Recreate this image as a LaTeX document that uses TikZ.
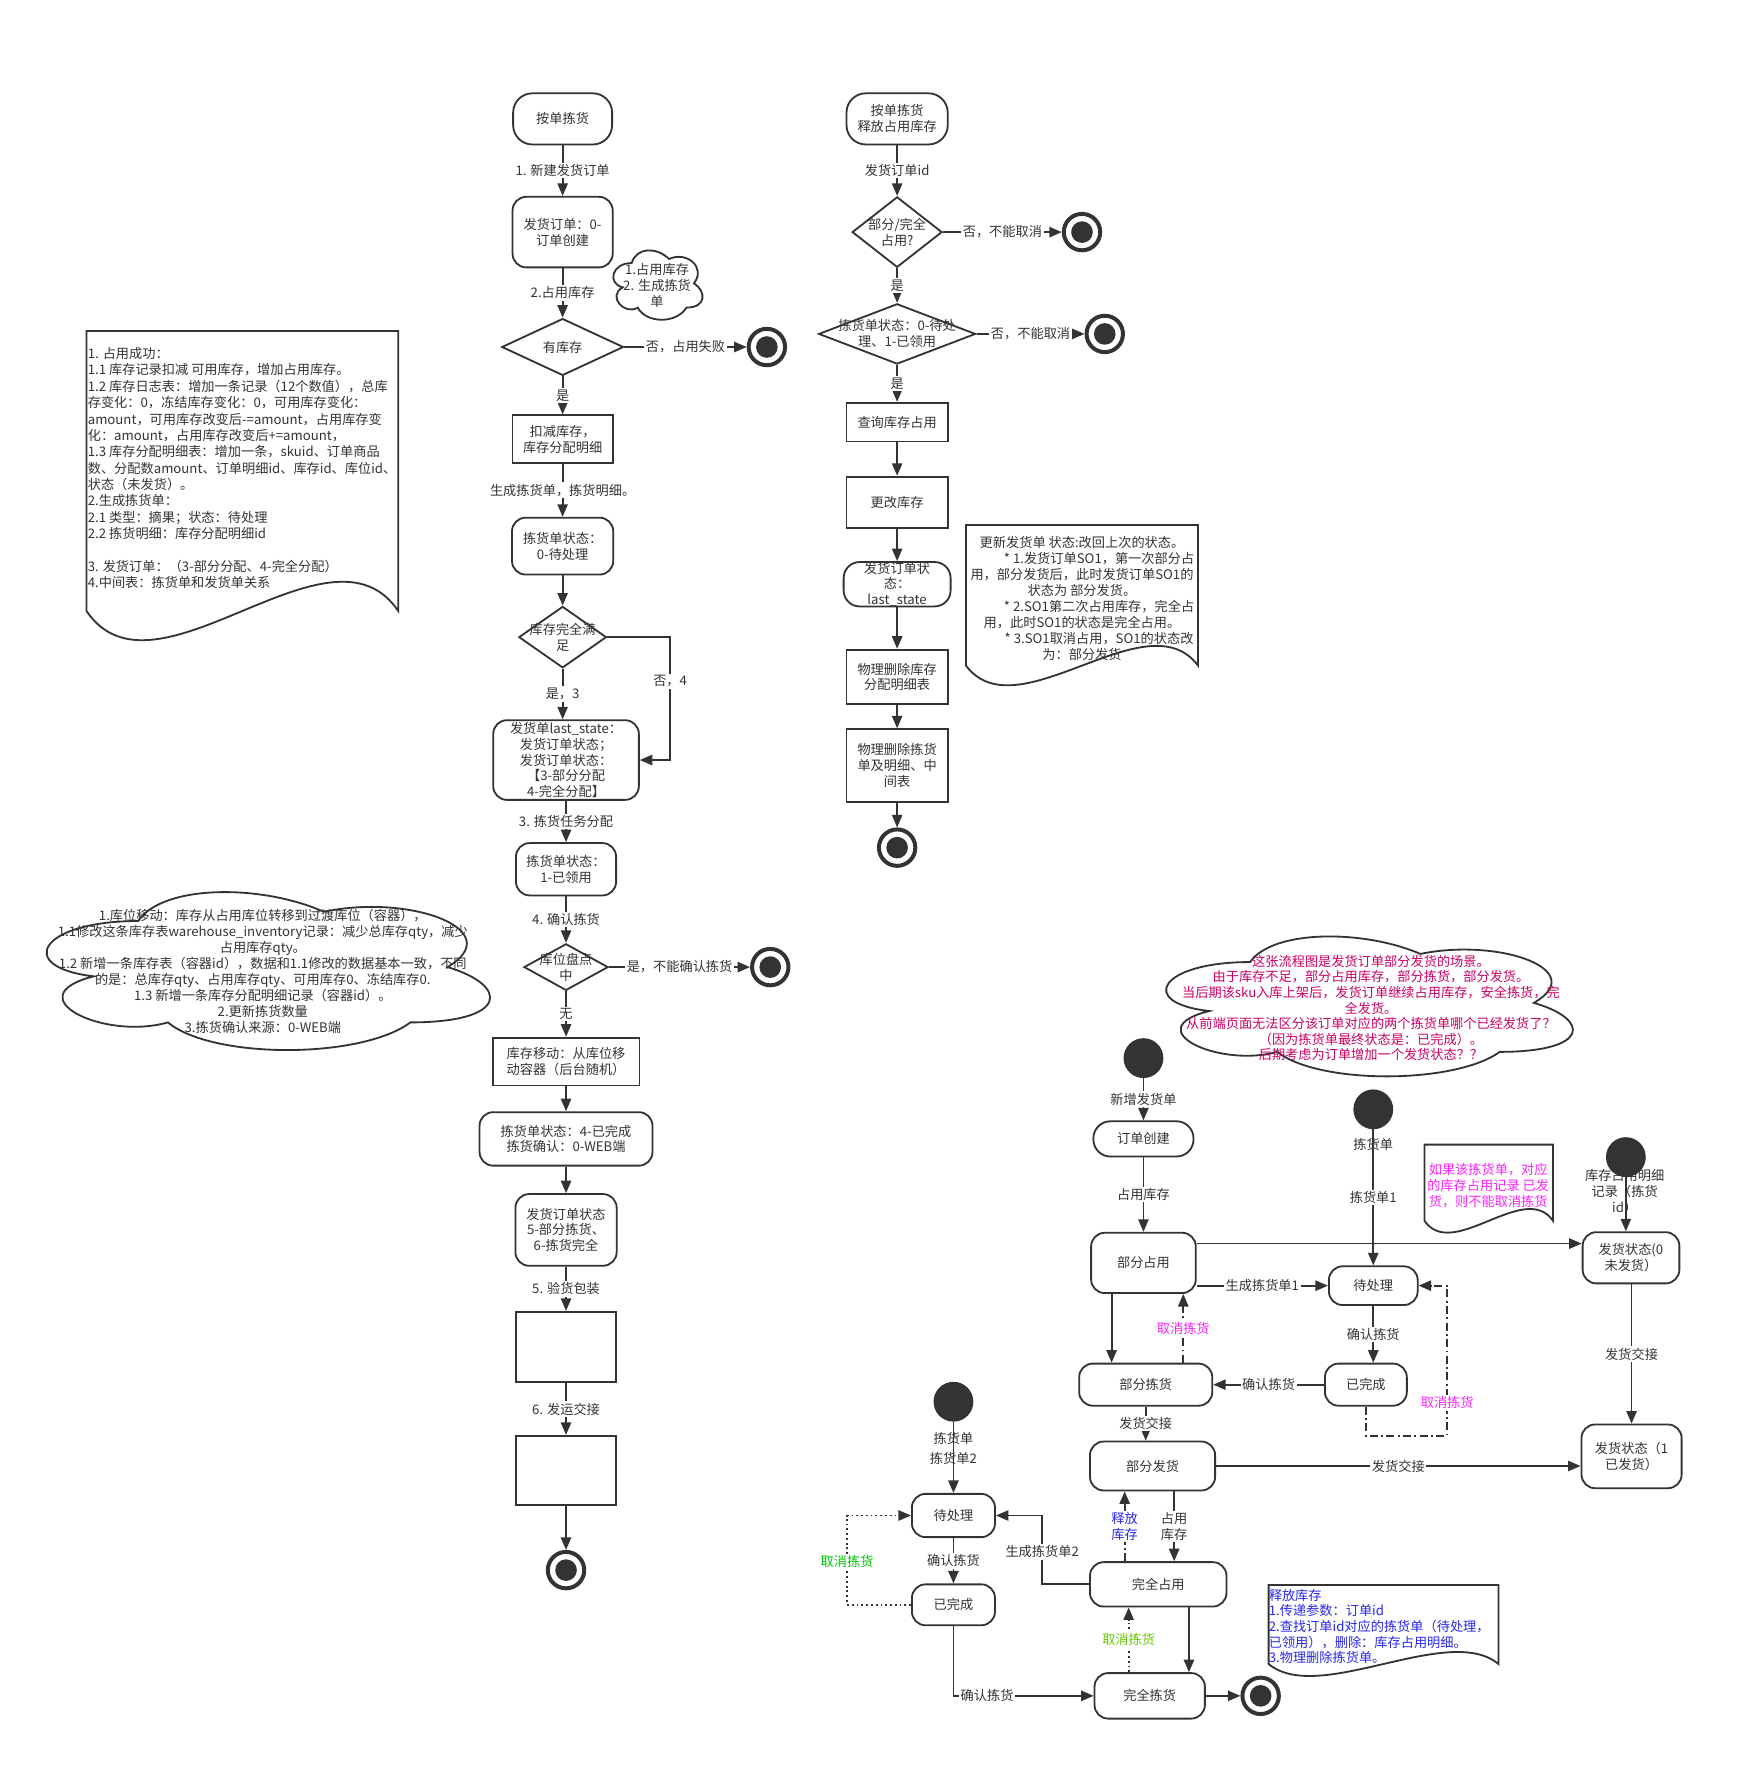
\documentclass[tikz,border=0pt]{standalone}
\usepackage{fontspec}
\setmainfont{Noto Sans CJK SC}
\usetikzlibrary{shapes.geometric,arrows.meta,calc}
\definecolor{ink}{HTML}{333333}
\definecolor{rose}{HTML}{CC0066}
\definecolor{mag}{HTML}{FF22FF}
\definecolor{relblue}{HTML}{2828F0}
\definecolor{grn}{HTML}{00C800}
\definecolor{lime}{HTML}{66C800}
\newcommand{\fs}{\fontsize{11.6}{14}\selectfont}

\tikzset{
  box/.style={draw=ink, line width=1.6pt, align=center, inner sep=0pt},
  pill/.style={box, rounded corners=17pt},
  stbox/.style={box, rounded corners=12pt},
  proc/.style={box},
  dec/.style={box, diamond},
  puff/.pic={
    \draw[box] (0.25,0.25) .. controls (0.05,0.25) and (0,0.5) .. (0.16,0.55)
      .. controls (0,0.66) and (0.18,0.9) .. (0.31,0.8)
      .. controls (0.4,1) and (0.7,1) .. (0.8,0.8)
      .. controls (1,0.8) and (1,0.6) .. (0.875,0.5)
      .. controls (1,0.3) and (0.8,0.1) .. (0.625,0.2)
      .. controls (0.5,0.05) and (0.3,0.05) .. (0.25,0.25) -- cycle;
  },
  startst/.style={circle, fill=ink, minimum size=35pt, inner sep=0pt},
  endst/.style={circle, draw=ink, line width=3.5pt, minimum size=32pt, inner sep=0pt,
    path picture={\fill[ink] (path picture bounding box.center) circle (9.5pt);}},
  flow/.style={draw=ink, line width=1.6pt, -{Triangle[length=11pt,width=9pt]}},
  dashflow/.style={flow, dash pattern=on 7pt off 3pt on 1.6pt off 3pt},
  dotflow/.style={flow, dash pattern=on 1.6pt off 2.6pt},
  lbl/.style={fill=white, inner sep=1.5pt, align=center},
  plainlbl/.style={inner sep=1pt, align=center},
}

\begin{document}
\begin{tikzpicture}[x=1pt, y=-1pt, every node/.style={font=\fs, text=ink}]
  \path[use as bounding box, fill=white] (0,0) rectangle (1531,1568);
  %
  % notes on the left
  \draw[box] (76,291) -- (350,291) -- (350,537) .. controls (290,448) and (136,626) .. (76,537) -- cycle;
  \node[align=left, anchor=west, inner sep=0pt, font=\fontsize{11.6}{14.4}\selectfont] (zycg) at (77,411.5) {1. 占用成功：\\
1.1 库存记录扣减 可用库存，增加占用库存。\\
1.2 库存日志表：增加一条记录（12个数值），总库\\
存变化：0，冻结库存变化：0，可用库存变化：\\
amount，可用库存改变后-=amount，占用库存变\\
化：amount，占用库存改变后+=amount，\\
1.3 库存分配明细表：增加一条，skuid、订单商品\\
数、分配数amount、订单明细id、库存id、库位id、\\
状态（未发货）。\\
2.生成拣货单：\\
2.1 类型：摘果；状态：待处理\\
2.2 拣货明细：库存分配明细id\\[14.4pt]
3. 发货订单：（3-部分分配、4-完全分配）\\
4.中间表：拣货单和发货单关系};
  %
  \path (12.7,769) pic[x=435pt, y=-162pt] {puff};
  \node[align=center, inner sep=0pt, font=\fontsize{11.6}{14.1}\selectfont] (kwyd) at (231,853.5) {1.库位移动：库存从占用库位转移到过渡库位（容器），\\1.1修改这条库存表warehouse\_inventory记录：减少总库存qty，减少\\占用库存qty。\\1.2 新增一条库存表（容器id），数据和1.1修改的数据基本一致，不同\\的是：总库存qty、占用库存qty、可用库存0、冻结库存0.\\1.3 新增一条库存分配明细记录（容器id）。\\2.更新拣货数量\\3.拣货确认来源：0-WEB端};
  %
  % main flow
  \node[pill, minimum width=87pt, minimum height=45pt] (ajjh) at (494.5,104.5) {按单拣货};
  \node[stbox, minimum width=88pt, minimum height=62pt] (fhdd) at (494.5,204) {发货订单：0-\\订单创建};
  \path (533.3,213.4) pic[x=87.6pt, y=-71.2pt] {puff};
  \node[align=center, inner sep=0pt] (yzyk) at (577.5,251) {1.占用库存\\2. 生成拣货\\单};
  \node[dec, minimum width=107pt, minimum height=50pt, label={center:有库存}] (yk) at (494.5,305) {};
  \node[endst] (e1) at (674,305) {};
  \node[proc, minimum width=88pt, minimum height=42pt] (kjkc) at (494.5,386) {扣减库存，\\库存分配明细};
  \node[stbox, minimum width=89pt, minimum height=50pt] (jhd0) at (494.5,480) {拣货单状态：\\0-待处理};
  \node[dec, minimum width=77pt, minimum height=54pt, label={[align=center]center:库存完全满\\足}] (kcmz) at (494.5,560) {};
  \node[stbox, minimum width=128pt, minimum height=70pt] (lastst) at (497.5,668) {发货单last\_state：\\发货订单状态；\\发货订单状态：\\【3-部分分配\\4-完全分配】};
  \node[stbox, minimum width=88pt, minimum height=46pt] (jhd1) at (497.5,764) {拣货单状态：\\1-已领用};
  \node[dec, minimum width=74pt, minimum height=41pt, label={[align=center]center:库位盘点\\中}] (kwpd) at (497.5,850) {};
  \node[endst] (e2) at (677,850) {};
  \node[proc, minimum width=129pt, minimum height=42pt] (kcyd) at (497.5,933) {库存移动：从库位移\\动容器（后台随机）};
  \node[stbox, minimum width=152pt, minimum height=47pt] (jhd4) at (497.5,1001) {拣货单状态：4-已完成\\拣货确认：0-WEB端};
  \node[stbox, minimum width=89pt, minimum height=63pt] (fhd5) at (497.5,1081) {发货订单状态\\5-部分拣货、\\6-拣货完全};
  \node[proc, minimum width=88pt, minimum height=62pt] (yhbz) at (497.5,1184) {};
  \node[proc, minimum width=88pt, minimum height=61pt] (fyjj) at (497.5,1292.5) {};
  \node[endst] (e3) at (497.5,1380) {};
  %
  \draw[flow] (ajjh) -- node[lbl]{1. 新建发货订单} (fhdd);
  \draw[flow] (fhdd) -- node[lbl]{2.占用库存} (yk);
  \draw[flow] (yk) -- node[lbl]{否，占用失败} (e1);
  \draw[flow] (yk) -- node[lbl]{是} (kjkc);
  \draw[flow] (kjkc) -- node[lbl]{生成拣货单，拣货明细。} (jhd0);
  \draw[flow] (jhd0) -- (kcmz);
  \draw[flow] (kcmz) -- node[lbl]{是，3} (kcmz |- lastst.north);
  \draw[flow] (kcmz.east) -- (589,560) |- node[lbl, pos=0.18]{否，4} (lastst.east);
  \draw[flow] (lastst) -- node[lbl]{3. 拣货任务分配} (jhd1);
  \draw[flow] (jhd1) -- node[lbl]{4. 确认拣货} (kwpd);
  \draw[flow] (kwpd) -- node[lbl]{是，不能确认拣货} (e2);
  \draw[flow] (kwpd) -- node[lbl]{无} (kcyd);
  \draw[flow] (kcyd) -- (jhd4);
  \draw[flow] (jhd4) -- (fhd5);
  \draw[flow] (fhd5) -- node[lbl]{5. 验货包装} (yhbz);
  \draw[flow] (yhbz) -- node[lbl]{6. 发运交接} (fyjj);
  \draw[flow] (fyjj) -- (e3);
  %
  % release flow
  \node[pill, minimum width=89pt, minimum height=45pt] (ajsf) at (788.5,104.5) {按单拣货\\释放占用库存};
  \node[dec, minimum width=79pt, minimum height=62pt, label={[align=center]center:部分/完全\\占用?}] (bfwq) at (788.5,204) {};
  \node[endst] (e4) at (951,204) {};
  \node[dec, minimum width=138pt, minimum height=53pt, label={[align=center]center:拣货单状态：0-待处\\理、1-已领用}] (jhzt) at (788.5,293.5) {};
  \node[endst] (e5) at (971,293.5) {};
  \node[proc, minimum width=89pt, minimum height=34pt] (cxkc) at (788.5,371) {查询库存占用};
  \node[proc, minimum width=89pt, minimum height=45pt] (ggkc) at (788.5,441.5) {更改库存};
  \node[pill, rounded corners=14pt, minimum width=94pt, minimum height=39pt, font=\fontsize{11.6}{13.5}\selectfont] (fhlast) at (788.5,513.5) {发货订单状\\态：\\last\_state};
  \node[proc, minimum width=89pt, minimum height=48pt] (wlsc1) at (788.5,595) {物理删除库存\\分配明细表};
  \node[proc, minimum width=89pt, minimum height=64pt] (wlsc2) at (788.5,673) {物理删除拣货\\单及明细、中\\间表};
  \node[endst] (e6) at (788.5,745) {};
  %
  \draw[flow] (ajsf) -- node[lbl]{发货订单id} (bfwq);
  \draw[flow] (bfwq) -- node[lbl]{否，不能取消} (e4);
  \draw[flow] (bfwq) -- node[lbl]{是} (jhzt);
  \draw[flow] (jhzt) -- node[lbl]{否，不能取消} (e5);
  \draw[flow] (jhzt) -- node[lbl]{是} (cxkc);
  \draw[flow] (cxkc) -- (ggkc);
  \draw[flow] (ggkc) -- (fhlast);
  \draw[flow] (fhlast) -- (wlsc1);
  \draw[flow] (wlsc1) -- (wlsc2);
  \draw[flow] (wlsc2) -- (e6);
  %
  \draw[box] (849,461.5) -- (1053,461.5) -- (1053,585) .. controls (1008,525) and (894,645) .. (849,585) -- cycle;
  \node[align=center, inner sep=0pt] (gxfh) at (951,526) {更新发货单 状态:改回上次的状态。\\
\hspace*{30pt}* 1.发货订单SO1，第一次部分占\\
用，部分发货后，此时发货订单SO1的\\
状态为 部分发货。\\
\hspace*{30pt}* 2.SO1第二次占用库存，完全占\\
用，此时SO1的状态是完全占用。\\
\hspace*{30pt}* 3.SO1取消占用，SO1的状态改\\
为：部分发货};
  %
  % state diagram
  \path (999,809.7) pic[x=399pt, y=-143.5pt] {puff};
  \node[align=center, inner sep=0pt, text=rose, font=\fontsize{11.6}{13.7}\selectfont] (cjsm) at (1205,886) {这张流程图是发货订单部分发货的场景。\\由于库存不足，部分占用库存，部分拣货，部分发货。\\当后期该sku入库上架后，发货订单继续占用库存，安全拣货，完\\全发货。\\从前端页面无法区分该订单对应的两个拣货单哪个已经发货了？\\（因为拣货单最终状态是：已完成）。\\后期考虑为订单增加一个发货状态？？};
  %
  \node[startst] (s1) at (1005,930) {};
  \node[pill, rounded corners=15pt, minimum width=88pt, minimum height=31pt] (ddcj) at (1005,1001) {订单创建};
  \node[stbox, minimum width=92pt, minimum height=53pt] (bfzy) at (1005,1110) {部分占用};
  \node[startst] (s2) at (1207,975) {};
  \node[stbox, minimum width=78pt, minimum height=34pt] (dcl1) at (1207,1130) {待处理};
  \node[plainlbl] (s3lbl) at (1428,1047) {库存占用明细\\记录（拣货\\id）};
  \node[startst] (s3) at (1429,1017) {};
  \node[stbox, minimum width=85pt, minimum height=45pt] (fz0) at (1433.5,1105.5) {发货状态(0\\未发货）};
  \node[stbox, minimum width=88pt, minimum height=56pt] (fz1) at (1434,1280) {发货状态（1\\已发货）};
  \node[stbox, minimum width=117pt, minimum height=37pt] (bfjh) at (1007,1217) {部分拣货};
  \node[stbox, minimum width=72pt, minimum height=37pt] (ywc1) at (1200.5,1217) {已完成};
  \node[stbox, minimum width=110pt, minimum height=43pt] (bffh) at (1013,1288.5) {部分发货};
  \node[stbox, minimum width=120pt, minimum height=39pt] (wqzy) at (1018,1392.5) {完全占用};
  \node[startst] (s4) at (838,1232) {};
  \node[stbox, minimum width=73pt, minimum height=38pt] (dcl2) at (838,1332) {待处理};
  \node[stbox, minimum width=73pt, minimum height=36pt] (ywc2) at (838,1410.5) {已完成};
  \node[stbox, minimum width=97pt, minimum height=40pt] (wqjh) at (1010.5,1490.5) {完全拣货};
  \node[endst] (e7) at (1108,1490.5) {};
  %
  \draw[flow] (s1) -- node[lbl]{新增发货单} (ddcj);
  \draw[flow] (ddcj) -- node[lbl]{占用库存} (bfzy);
  \draw[flow] (bfzy.east |- 0,1093) -- (fz0.west |- 0,1093);
  \draw[flow] (bfzy.east |- dcl1.west) -- node[lbl]{生成拣货单1} (dcl1.west);
  \draw[flow] (s2) -- node[plainlbl, pos=0.11]{拣货单} node[lbl]{拣货单1} (dcl1);
  \draw[flow] (s3) -- (s3 |- fz0.north);
  \draw[flow] (fz0.south -| fz1) -- node[lbl]{发货交接} (fz1);
  \draw[flow] (bfzy.south -| 977,0) -- (bfjh.north -| 977,0);
  \draw[dashflow] (bfjh.north -| 1040,0) -- node[lbl, text=mag]{取消拣货} (bfzy.south -| 1040,0);
  \draw[flow] (dcl1) -- node[lbl]{确认拣货} (dcl1 |- ywc1.north);
  \draw[flow] (ywc1) -- node[lbl]{确认拣货} (bfjh);
  \draw[dashflow] (ywc1.south) |- (1272,1262) |- node[lbl, pos=0.11, text=mag]{取消拣货} (dcl1.east);
  \draw[flow] (bfjh.south) -- node[lbl]{发货交接} (bfjh.south |- bffh.north);
  \draw[flow] (bffh.east) -- node[lbl]{发货交接} (fz1.west |- bffh.east);
  \draw[dashflow] (wqzy.north -| 988.5,0) -- node[lbl, text=relblue]{释放\\库存} (bffh.south -| 988.5,0);
  \draw[flow] (bffh.south -| 1032,0) -- node[lbl]{占用\\库存} (wqzy.north -| 1032,0);
  \draw[flow] (wqzy.west) -| node[lbl, pos=0.735]{生成拣货单2} (916,0 |- dcl2.east) -- (dcl2.east);
  \draw[flow] (s4) -- node[plainlbl, pos=0.23]{拣货单} node[plainlbl, pos=0.51]{拣货单2} (dcl2);
  \draw[flow] (dcl2) -- node[lbl]{确认拣货} (ywc2);
  \draw[dotflow] (ywc2.west) -| node[lbl, pos=0.74, text=grn]{取消拣货} (744.5,0 |- dcl2.west) -- (dcl2.west);
  \draw[flow] (ywc2) |- node[lbl, pos=0.62]{确认拣货} (wqjh);
  \draw[dotflow] (wqjh.north -| 992,0) -- node[lbl, text=lime]{取消拣货} (wqzy.south -| 992,0);
  \draw[flow] (wqzy.south -| 1045,0) -- (wqjh.north -| 1045,0);
  \draw[flow] (wqjh) -- (e7);
  %
  \draw[box] (1252,1006) -- (1365,1006) -- (1365,1073) .. controls (1340,1037) and (1277,1109) .. (1252,1073) -- cycle;
  \node[align=center, inner sep=0pt, text=mag] (bnqx) at (1308,1042) {如果该拣货单，对应\\的库存占用记录 已发\\货，则不能取消拣货};
  %
  \draw[box] (1115,1393) -- (1317,1393) -- (1317,1462.5) .. controls (1273,1426) and (1159,1499) .. (1115,1462.5) -- cycle;
  \node[align=left, anchor=west, inner sep=0pt, text=relblue, font=\fontsize{11.6}{13.75}\selectfont] (sfkc) at (1115,1429.5) {释放库存\\
1.传递参数：订单id\\
2.查找订单id对应的拣货单（待处理，\\
已领用），删除：库存占用明细。\\
3.物理删除拣货单。};
  %
\end{tikzpicture}
\end{document}
